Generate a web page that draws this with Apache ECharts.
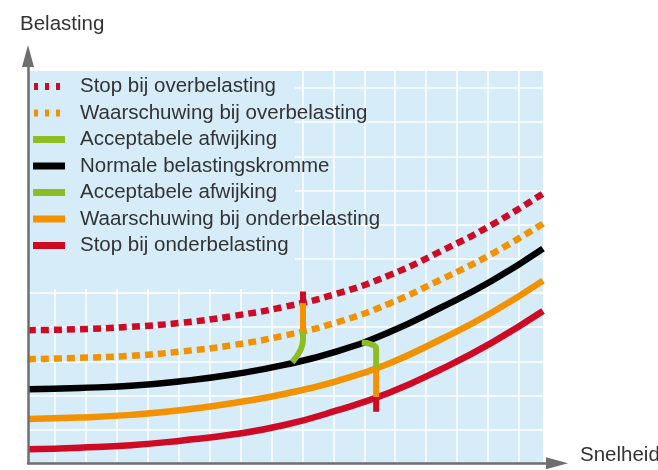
<!DOCTYPE html>
<html>
<head>
<meta charset="utf-8">
<script src="https://cdn.jsdelivr.net/npm/echarts@6/dist/echarts.min.js"></script>
<style>
  html, body { margin: 0; padding: 0; background: #fff; }
  #chart { width: 658px; height: 470px; }
</style>
</head>
<body>
<div id="chart"></div>
<script>
const speed     = [0, 1, 2, 3, 4, 5, 6, 7, 8, 9, 10]
const stopOver  = [3.91, 3.94, 4.01, 4.13, 4.33, 4.60, 4.98, 5.51, 6.21, 6.99, 7.91]
const warnOver  = [3.06, 3.10, 3.16, 3.29, 3.48, 3.76, 4.14, 4.68, 5.38, 6.14, 7.03]
const normal    = [2.18, 2.22, 2.28, 2.42, 2.62, 2.90, 3.29, 3.84, 4.56, 5.35, 6.30]
const warnUnder = [1.31, 1.35, 1.43, 1.57, 1.78, 2.05, 2.42, 2.93, 3.63, 4.42, 5.36]
const stopUnder = [0.42, 0.47, 0.54, 0.68, 0.86, 1.14, 1.56, 2.07, 2.75, 3.54, 4.47]

// markeringen bij overbelasting en onderbelasting
const greenOver   = [[5.34, 3.89], [5.34, 3.62], [5.28, 3.30], [5.13, 2.97]]
const orangeOver  = [[5.34, 3.89], [5.34, 4.71]]
const redOver     = [[5.34, 4.71], [5.34, 5.04]]
const greenUnder  = [[6.48, 3.55], [6.66, 3.50], [6.76, 3.36], [6.76, 2.79]]
const orangeUnder = [[6.76, 2.79], [6.76, 1.95]]
const redUnder    = [[6.76, 1.95], [6.76, 1.52]]

const legendNames = [
  'Stop bij overbelasting',
  'Waarschuwing bij overbelasting',
  'Acceptabele afwijking',
  'Normale belastingskromme',
  'Acceptabele afwijking ',
  'Waarschuwing bij onderbelasting',
  'Stop bij onderbelasting',
]

const RED = '#cf0a24'
const ORANGE = '#f39200'
const GREEN = '#8cbe23'
const BLACK = '#000000'
const BLUE = '#d6ecf9'
const GREY = '#6e6e6e'
const FONT = "'Liberation Sans', Arial, sans-serif"
const DOTS = 'path://M0,0h4v7h-4zM11,0h4v7h-4zM22,0h4v7h-4zM30,0h0'

const legendColors = [RED, ORANGE, GREEN, BLACK, GREEN, ORANGE, RED]
const legendIcons = [DOTS, DOTS, 'rect', 'rect', 'rect', 'rect', 'rect']

const pairs = ys => speed.map((x, i) => [x, ys[i]])

function curve(name, ys, color, dotted) {
  return {
    name,
    type: 'line',
    xAxisIndex: 1,
    yAxisIndex: 1,
    data: pairs(ys),
    smooth: true,
    showSymbol: false,
    color,
    lineStyle: { color, width: 6.5, type: dotted ? [8, 5] : 'solid', cap: 'butt' },
    silent: true,
    z: 2,
  }
}

function marker(name, pts, color, smooth) {
  return {
    name,
    type: 'line',
    xAxisIndex: 1,
    yAxisIndex: 1,
    data: pts,
    smooth: smooth ? 0.5 : false,
    showSymbol: false,
    color,
    lineStyle: { color, width: 6, cap: 'butt' },
    silent: true,
    z: 3,
  }
}

const hidden = { show: false }
const label = { fontSize: 20.5, fontWeight: 'normal', color: '#333', fontFamily: FONT, lineHeight: 20 }

const chart = echarts.init(document.getElementById('chart'), null, { renderer: 'canvas' })

chart.setOption({
  animation: false,
  textStyle: { fontFamily: FONT },
  title: [
    { text: 'Belasting', left: 20, top: 14, padding: 0, textStyle: label },
    { text: 'Snelheid', left: 580, top: 445, padding: 0, textStyle: label },
  ],
  legend: {
    orient: 'vertical',
    left: 33,
    top: 76,
    padding: 0,
    itemGap: 5.5,
    itemWidth: 32,
    itemHeight: 7,
    selectedMode: false,
    itemStyle: { borderWidth: 0 },
    textStyle: { ...label, padding: [0, 0, 0, 10] },
    data: legendNames.map((name, i) => ({
      name,
      icon: legendIcons[i],
      itemStyle: { color: legendColors[i], borderWidth: 0 },
    })),
  },
  // blauw vlak achter de legenda, dekt het raster af
  graphic: [{
    type: 'rect',
    z: 1,
    silent: true,
    shape: { x: 29.5, y: 71, width: 265.5, height: 218 },
    style: { fill: BLUE },
  }],
  grid: [
    // assenkruis met pijlen
    { left: 28, top: 56, right: 101, bottom: 6.7 },
    // blauw diagramvlak
    { left: 28, top: 71, width: 515, height: 392.7, show: true, backgroundColor: BLUE, borderWidth: 0 },
    // verticale rasterlijnen
    { left: 24.07, top: 71, width: 525.8, height: 390.5 },
  ],
  xAxis: [
    { gridIndex: 0, type: 'value', min: 0, max: 1, z: 5,
      axisLine: { show: true, symbol: ['none', 'triangle'], symbolSize: [12, 22], lineStyle: { color: GREY, width: 2.5 } },
      axisTick: hidden, axisLabel: hidden, splitLine: hidden },
    { gridIndex: 1, type: 'value', min: 0, max: 10,
      axisLine: hidden, axisTick: hidden, axisLabel: hidden, splitLine: hidden },
    { gridIndex: 2, type: 'value', min: 0, max: 17, interval: 1,
      axisLine: hidden, axisTick: hidden, axisLabel: hidden,
      splitLine: { show: true, lineStyle: { color: '#ffffff', width: 1.5 } } },
  ],
  yAxis: [
    { gridIndex: 0, type: 'value', min: 0, max: 1, z: 5,
      axisLine: { show: true, symbol: ['none', 'triangle'], symbolSize: [12, 22], lineStyle: { color: GREY, width: 2.5 } },
      axisTick: hidden, axisLabel: hidden, splitLine: hidden },
    { gridIndex: 1, type: 'value', min: 0, max: 11.5, interval: 1,
      axisLine: hidden, axisTick: hidden, axisLabel: hidden,
      splitLine: { show: true, showMaxLine: false, lineStyle: { color: '#ffffff', width: 1.5 } } },
    { gridIndex: 2, type: 'value', min: 0, max: 1,
      axisLine: hidden, axisTick: hidden, axisLabel: hidden, splitLine: hidden },
  ],
  series: [
    curve(legendNames[0], stopOver, RED, true),
    curve(legendNames[1], warnOver, ORANGE, true),
    curve(legendNames[3], normal, BLACK, false),
    curve(legendNames[5], warnUnder, ORANGE, false),
    curve(legendNames[6], stopUnder, RED, false),
    marker(legendNames[2], greenOver, GREEN, true),
    marker('markering waarschuwing over', orangeOver, ORANGE, false),
    marker('markering stop over', redOver, RED, false),
    marker(legendNames[4], greenUnder, GREEN, true),
    marker('markering waarschuwing onder', orangeUnder, ORANGE, false),
    marker('markering stop onder', redUnder, RED, false),
  ],
})
</script>
</body>
</html>
